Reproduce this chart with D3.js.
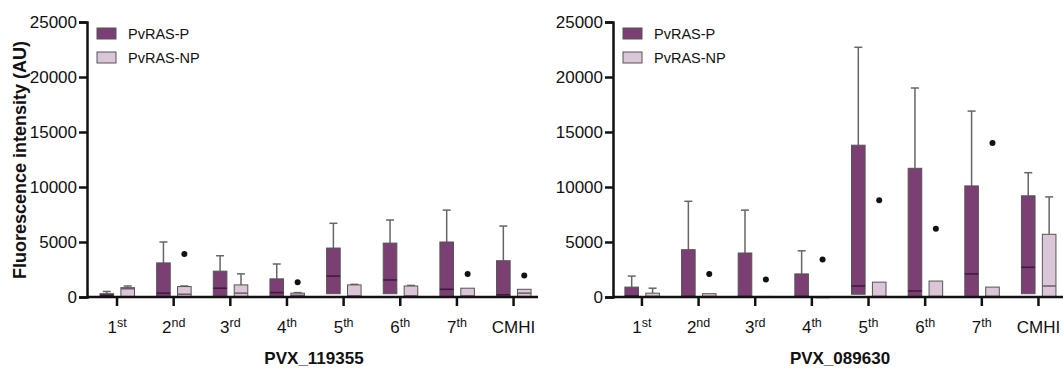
<!DOCTYPE html>
<html>
<head>
<meta charset="utf-8">
<script src="https://cdn.jsdelivr.net/npm/d3@7"></script>
<style>
  body { margin: 0; background: #fff; }
  text { font-family: "Liberation Sans", Arial, sans-serif; fill: #111; }
</style>
</head>
<body>
<svg id="chart" width="1063" height="369"></svg>
<script>
// categories (label + superscript)
const groups = ["1", "2", "3", "4", "5", "6", "7", "CMHI"];
const groupSups = ["st", "nd", "rd", "th", "th", "th", "th", ""];
const series = ["PvRAS-P", "PvRAS-NP"];
const yTicks = [0, 5000, 10000, 15000, 20000, 25000];

// [min, q1, median, q3, max] per group
const p119355 = [
  [0, 50, 150, 300, 500],
  [0, 50, 350, 3100, 5000],
  [0, 50, 800, 2350, 3750],
  [0, 50, 400, 1650, 3000],
  [0, 300, 1900, 4450, 6700],
  [0, 300, 1550, 4900, 7000],
  [0, 0, 700, 5000, 7900],
  [0, 50, 200, 3300, 6450]
];
const np119355 = [
  [0, 50, 750, 850, 1000],
  [0, 50, 250, 950, 1000],
  [0, 50, 350, 1100, 2100],
  [0, 0, 150, 350, 400],
  [0, 50, 100, 1100, 1150],
  [0, 50, 100, 1000, 1050],
  [0, 0, 100, 800, 800],
  [0, 50, 350, 700, 700]
];
const out119355 = [null, 3900, null, 1350, null, null, 2100, 1950];

const p089630 = [
  [0, 0, 100, 900, 1900],
  [0, 0, 50, 4300, 8700],
  [0, 0, 50, 4000, 7900],
  [0, 0, 50, 2100, 4200],
  [0, 250, 1000, 13800, 22700],
  [0, 0, 550, 11700, 19000],
  [0, 0, 2100, 10100, 16900],
  [0, 300, 2700, 9200, 11300]
];
const np089630 = [
  [0, 0, 50, 350, 800],
  [0, 0, 50, 300, 300],
  [0, 0, 20, 50, 50],
  [0, 0, 10, 20, 20],
  [0, 0, 50, 1350, 1350],
  [0, 0, 50, 1450, 1450],
  [0, 0, 50, 900, 900],
  [0, 0, 1000, 5700, 9100]
];
const out089630 = [null, 2100, 1600, 3400, 8800, 6200, 14000, null];

const colP = "#7b3f74", colNP = "#dbc6d8";
const svg = d3.select("#chart");

function drawPanel(opts) {
  const g = svg.append("g");
  const y = d3.scaleLinear().domain([0, 25000]).range([297, 22]);
  const x = d3.scaleBand().domain(groups).range([opts.x0, opts.x0 + 8 * 56.65]);
  const inner = d3.scaleBand().domain(series).range([11.3, 45.8]).paddingInner(0.35);
  const bw = inner.bandwidth();

  // boxes
  [[opts.p, colP, "#3b1a38", series[0]], [opts.np, colNP, "#6e5a6b", series[1]]].forEach(([rows, fill, med, key]) => {
    rows.forEach((d, i) => {
      const bx = x(groups[i]) + inner(key);
      const cx = bx + bw / 2;
      if (d[4] > d[3]) {
        g.append("line").attr("x1", cx).attr("x2", cx).attr("y1", y(d[3])).attr("y2", y(d[4]))
          .attr("stroke", "#666").attr("stroke-width", 1.5);
        g.append("line").attr("x1", cx - 4).attr("x2", cx + 4).attr("y1", y(d[4])).attr("y2", y(d[4]))
          .attr("stroke", "#666").attr("stroke-width", 1.5);
      }
      g.append("rect").attr("x", bx).attr("width", bw)
        .attr("y", y(d[3])).attr("height", Math.max(1, y(d[1]) - y(d[3])))
        .attr("fill", fill).attr("stroke", "#555").attr("stroke-width", 1);
      g.append("line").attr("x1", bx).attr("x2", bx + bw).attr("y1", y(d[2])).attr("y2", y(d[2]))
        .attr("stroke", med).attr("stroke-width", 1.5);
    });
  });

  // outlier dots (NP series)
  opts.out.forEach((v, i) => {
    if (v == null) return;
    g.append("circle").attr("cx", x(groups[i]) + inner(series[1]) + bw / 2).attr("cy", y(v))
      .attr("r", 3).attr("fill", "#111");
  });

  // y axis
  const ya = g.append("g").attr("transform", "translate(" + opts.axisX + ",0)")
    .call(d3.axisLeft(y).tickValues(yTicks).tickSize(8).tickPadding(2).tickFormat(d3.format("d")));
  ya.select(".domain").attr("stroke", "#111").attr("stroke-width", 2.5);
  ya.selectAll(".tick line").attr("stroke", "#111").attr("stroke-width", 2.5);
  ya.selectAll(".tick text").style("font-size", "17px").attr("fill", "#111");

  // x axis
  const xa = g.append("g").attr("transform", "translate(0,297)")
    .call(d3.axisBottom(x).tickSize(9).tickFormat(""));
  xa.select(".domain").attr("d", "M" + opts.axisX + ",0H" + opts.xEnd).attr("stroke", "#111").attr("stroke-width", 2.5);
  xa.selectAll(".tick line").attr("stroke", "#111").attr("stroke-width", 2.5);

  const lbl = g.selectAll(".glabel").data(groups).join("text")
    .attr("class", "glabel")
    .attr("x", d => x(d) + x.bandwidth() / 2)
    .attr("y", 333)
    .attr("text-anchor", "middle")
    .style("font-size", "17px");
  lbl.append("tspan").text(d => d);
  lbl.append("tspan").attr("dy", -6).style("font-size", "12.5px").text((d, i) => groupSups[i]);

  g.append("text").attr("x", opts.titleX).attr("y", 364).attr("text-anchor", "middle")
    .style("font-size", "17px").style("font-weight", "bold").text(opts.title);

  // legend
  series.forEach((s, i) => {
    g.append("rect").attr("x", opts.axisX + 10).attr("y", 28 + i * 24).attr("width", 19).attr("height", 11)
      .attr("fill", i ? colNP : colP).attr("stroke", "#555").attr("stroke-width", 1);
    g.append("text").attr("x", opts.axisX + 41).attr("y", 39 + i * 24)
      .style("font-size", "14.5px").text(s);
  });
}

drawPanel({ p: p119355, np: np119355, out: out119355, x0: 88.7, axisX: 87, xEnd: 538, title: "PVX_119355", titleX: 314 });
drawPanel({ p: p089630, np: np089630, out: out089630, x0: 613.6, axisX: 613, xEnd: 1063, title: "PVX_089630", titleX: 840 });

svg.append("text").attr("transform", "translate(26,160) rotate(-90)")
  .attr("text-anchor", "middle").style("font-size", "18px").style("font-weight", "bold")
  .text("Fluorescence intensity (AU)");
</script>
</body>
</html>
